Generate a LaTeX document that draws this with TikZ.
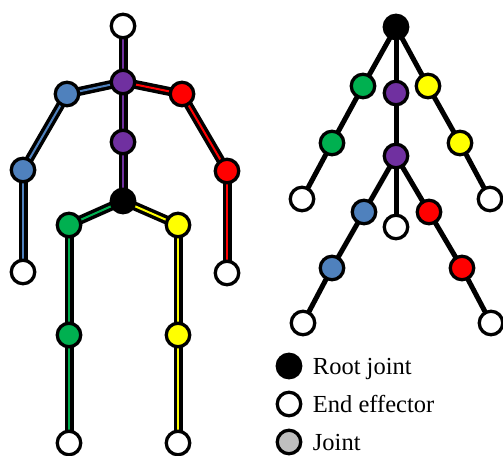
\documentclass[tikz,border=0pt]{standalone}
\usepackage{fontspec}
\setmainfont{Liberation Serif}
\usetikzlibrary{positioning,backgrounds}

\definecolor{jblue}{HTML}{4F81BD}
\definecolor{jred}{HTML}{FF0000}
\definecolor{jpurple}{HTML}{7030A0}
\definecolor{jgreen}{HTML}{00B050}
\definecolor{jyellow}{HTML}{FFFF00}
\definecolor{jgray}{HTML}{BFBFBF}

\begin{document}
\begin{tikzpicture}[x=1pt,y=1pt,node distance=38pt]
  \tikzstyle{joint}=[circle,draw=black,line width=3.3pt,minimum size=23.5pt,inner sep=0pt,outer sep=0pt]
  \tikzstyle{bone}=[draw=black,line width=3.5pt,double distance=2pt]
  \tikzstyle{link}=[draw=black,line width=5pt]
  \tikzstyle{keytext}=[inner sep=0pt,text height=16.7pt,text depth=0pt,font=\fontsize{24.5}{29}\selectfont]

  \useasboundingbox (0,0) rectangle (503,-455);

  % skeleton
  \node[joint] [fill=white]    (head)  at (123,-26)  {};
  \node[joint] [fill=jpurple]  (neck)  at (123,-82)  {};
  \node[joint] [fill=jpurple]  (spine) at (123,-142) {};
  \node[joint] [fill=black]    (root)  at (123,-201) {};
  \node[joint] [fill=jblue]    (lsho)  at (67,-94)   {};
  \node[joint] [fill=jblue]    (lelb)  at (23,-170)  {};
  \node[joint] [fill=white]    (lhand) at (23,-272)  {};
  \node[joint] [fill=jred]     (rsho)  at (182,-94)  {};
  \node[joint] [fill=jred]     (relb)  at (227,-171) {};
  \node[joint] [fill=white]    (rhand) at (227,-273) {};
  \node[joint] [fill=jgreen]   (lhip)  at (69,-225)  {};
  \node[joint] [fill=jgreen]   (lknee) at (69,-335)  {};
  \node[joint] [fill=white]    (lfoot) at (69,-443)  {};
  \node[joint] [fill=jyellow]  (rhip)  at (178,-225) {};
  \node[joint] [fill=jyellow]  (rknee) at (178,-335) {};
  \node[joint] [fill=white]    (rfoot) at (178,-443) {};

  % tree
  \node[joint] [fill=black]    (troot) at (396,-27)  {};
  \node[joint] [fill=jgreen]   (tg1)   at (363,-86)  {};
  \node[joint] [fill=jpurple]  (tp1)   at (396,-93)  {};
  \node[joint] [fill=jyellow]  (ty1)   at (428,-86)  {};
  \node[joint] [fill=jgreen]   (tg2)   at (332,-143) {};
  \node[joint] [fill=jpurple]  (tp2)   at (396,-156) {};
  \node[joint] [fill=jyellow]  (ty2)   at (460,-143) {};
  \node[joint] [fill=white]    (tge)   at (302,-199) {};
  \node[joint] [fill=white]    (tye)   at (490,-199) {};
  \node[joint] [fill=jblue]    (tb1)   at (364,-212) {};
  \node[joint] [fill=white]    (the)   at (396,-227) {};
  \node[joint] [fill=jred]     (tr1)   at (429,-212) {};
  \node[joint] [fill=jblue]    (tb2)   at (332,-268) {};
  \node[joint] [fill=jred]     (tr2)   at (462,-268) {};
  \node[joint] [fill=white]    (tbe)   at (303,-323) {};
  \node[joint] [fill=white]    (tre)   at (491,-323) {};

  % legend
  \node[joint] [fill=black]    (rootkey)  at (289,-366)     {};
  \node[joint] [fill=white]    (endkey)   [below of=rootkey] {};
  \node[joint] [fill=jgray]    (jointkey) [below of=endkey]  {};
  \node[keytext] (rootlbl)  [right=12pt of rootkey]  {Root joint};
  \node[keytext] (endlbl)   [right=12pt of endkey]   {End effector};
  \node[keytext] (jointlbl) [right=12pt of jointkey] {Joint};

  \begin{pgfonlayer}{background}
  \path (head)  edge [bone,double=jpurple] (neck)
        (neck)  edge [bone,double=jpurple] (spine)
        (spine) edge [bone,double=jpurple] (root)
        (neck)  edge [bone,double=jblue]   (lsho)
        (lsho)  edge [bone,double=jblue]   (lelb)
        (lelb)  edge [bone,double=jblue]   (lhand)
        (neck)  edge [bone,double=jred]    (rsho)
        (rsho)  edge [bone,double=jred]    (relb)
        (relb)  edge [bone,double=jred]    (rhand)
        (root)  edge [bone,double=jgreen]  (lhip)
        (lhip)  edge [bone,double=jgreen]  (lknee)
        (lknee) edge [bone,double=jgreen]  (lfoot)
        (root)  edge [bone,double=jyellow] (rhip)
        (rhip)  edge [bone,double=jyellow] (rknee)
        (rknee) edge [bone,double=jyellow] (rfoot);

  \path[link] (troot) edge (tg1)
                      edge (tp1)
                      edge (ty1)
              (tg1)   edge (tg2)
              (tg2)   edge (tge)
              (tp1)   edge (tp2)
              (ty1)   edge (ty2)
              (ty2)   edge (tye)
              (tp2)   edge (tb1)
                      edge (the)
                      edge (tr1)
              (tb1)   edge (tb2)
              (tb2)   edge (tbe)
              (tr1)   edge (tr2)
              (tr2)   edge (tre);
  \end{pgfonlayer}
\end{tikzpicture}
\end{document}
